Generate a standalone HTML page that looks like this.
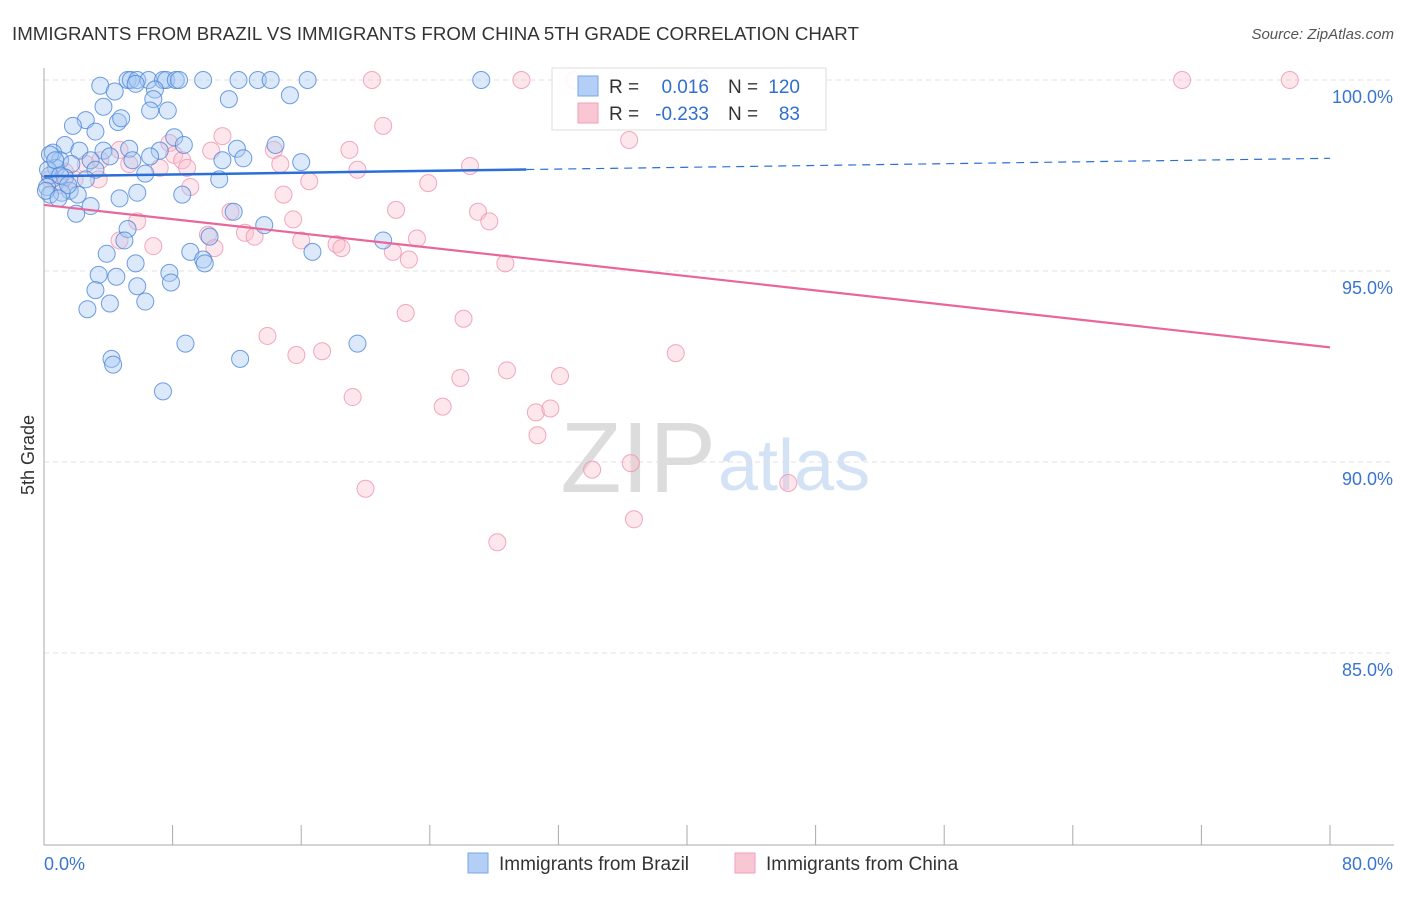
<!DOCTYPE html>
<html><head><meta charset="utf-8"><style>
body{margin:0;background:#fff;font-family:"Liberation Sans",sans-serif}
svg text{font-family:"Liberation Sans",sans-serif}
</style></head><body>
<svg id="chart" width="1406" height="892">
<text x="12" y="40" font-size="18.7" fill="#333">IMMIGRANTS FROM BRAZIL VS IMMIGRANTS FROM CHINA 5TH GRADE CORRELATION CHART</text>
<text x="1394" y="39" font-size="15" fill="#555" text-anchor="end" font-style="italic">Source: ZipAtlas.com</text>
<text x="716" y="492" font-size="100" fill="#dcdcdc" text-anchor="end" font-family="Liberation Serif">ZIP</text>
<text x="718" y="490" font-size="72" fill="#d3e2f5">atlas</text>
<g id="grid"></g><g id="axes"></g><g id="pts"></g><g id="lines"></g>
<text transform="translate(34,455) rotate(-90)" font-size="18" fill="#333" text-anchor="middle">5th Grade</text>
<g>
<rect x="552" y="68" width="274" height="62" fill="#fff" fill-opacity="0.9" stroke="#ddd"/>
<rect x="578" y="76" width="20" height="20" fill="#b3cff5" stroke="#7aa6e6"/>
<rect x="578" y="103" width="20" height="20" fill="#f9c6d4" stroke="#f0a0b8"/>
<text x="609" y="93" font-size="19" fill="#333">R = </text><text x="709" y="93" font-size="19" fill="#2f6fd0" text-anchor="end">0.016</text>
<text x="728" y="93" font-size="19" fill="#333">N = </text><text x="800" y="93" font-size="19" fill="#2f6fd0" text-anchor="end">120</text>
<text x="609" y="120" font-size="19" fill="#333">R = </text><text x="709" y="120" font-size="19" fill="#2f6fd0" text-anchor="end">-0.233</text>
<text x="728" y="120" font-size="19" fill="#333">N = </text><text x="800" y="120" font-size="19" fill="#2f6fd0" text-anchor="end">83</text>
</g>
<g>
<rect x="468" y="853" width="20" height="20" fill="#b3cff5" stroke="#7aa6e6"/>
<text x="499" y="870" font-size="19" fill="#333">Immigrants from Brazil</text>
<rect x="735" y="853" width="20" height="20" fill="#f9c6d4" stroke="#f0a0b8"/>
<text x="766" y="870" font-size="19" fill="#333">Immigrants from China</text>
</g>
</svg>
<script>
const yTicks=[100,95,90,85];
const yTickLabels=["100.0%","95.0%","90.0%","85.0%"];
const xTickVals=[0,8,16,24,32,40,48,56,64,72,80];
const xEndLabels=["0.0%","80.0%"];
const brazilX=[5.2,5.4,5.8,6.5,7.4,7.6,8.2,8.4,9.9,12.1,13.3,14.1,16.4,27.2,3.5,4.4,5.7,6.9,6.8,7.7,11.5,15.3,3.7,2.6,1.8,4.6,4.8,6.6,3.2,8.1,1.3,14.4,8.7,12,0.56,2.2,3.7,5.3,7.2,1.0,2.9,4.1,5.5,6.6,11.1,12.4,16.0,0.75,1.7,3.2,6.3,0.37,1.3,2.6,10.9,0.19,1.6,2.1,1.1,4.7,5.8,8.6,2.9,2.0,0.37,11.8,13.7,5.2,5.0,10.3,9.1,3.9,5.7,9.9,10.0,16.7,21.1,3.4,4.5,7.8,7.9,3.2,5.8,2.7,4.1,6.3,8.8,4.2,4.3,12.2,19.5,7.4,0.37,0.25,0.12,0.7,1.0,1.5,0.9];
const brazilY=[100,100,100,100,100,100,100,100,100,100,100,100,100,100,99.85,99.7,99.9,99.75,99.5,99.2,99.5,99.6,99.3,98.95,98.8,98.9,99.0,99.2,98.65,98.5,98.3,98.3,98.3,98.2,98.1,98.15,98.15,98.2,98.15,97.9,97.9,98.0,97.9,98.0,97.9,97.95,97.85,97.7,97.8,97.65,97.55,97.5,97.45,97.4,97.4,97.2,97.1,97.0,97.05,96.9,97.05,97.0,96.7,96.5,97.0,96.55,96.2,96.1,95.8,95.9,95.5,95.45,95.2,95.3,95.2,95.5,95.8,94.9,94.85,94.95,94.7,94.5,94.6,94.0,94.15,94.2,93.1,92.7,92.55,92.7,93.1,91.85,98.05,97.65,97.1,97.9,97.5,97.25,96.9];
const chinaX=[20.4,29.7,33,40.8,70.8,77.5,21.1,36.4,11.1,10.4,7.8,14.3,19.0,4.7,8.1,8.6,7.2,8.9,14.7,19.5,26.5,16.5,23.9,3.4,1.9,9.1,14.9,21.9,27.0,27.7,11.6,15.5,5.8,12.5,13.1,4.7,10.2,16.0,18.2,18.5,23.2,6.8,10.6,21.7,22.7,28.7,22.5,26.1,13.9,15.7,17.3,39.3,25.9,28.8,32.1,19.2,24.8,30.6,31.5,30.7,34.1,36.5,46.3,20.0,36.7,28.2,0.37,1.0,2.6,5.3,3.5,1.3];
const chinaY=[100,100,100,100,100,100,98.8,98.43,98.53,98.15,98.35,98.17,98.17,98.17,98.04,97.9,97.7,97.7,97.8,97.65,97.75,97.35,97.3,97.4,97.4,97.2,97.0,96.6,96.55,96.3,96.55,96.35,96.3,96.0,95.9,95.8,95.95,95.8,95.7,95.6,95.85,95.65,95.6,95.5,95.3,95.2,93.9,93.75,93.3,92.8,92.9,92.85,92.2,92.4,92.25,91.7,91.45,91.3,91.4,90.7,89.8,89.97,89.45,89.3,88.5,87.9,97.4,97.25,97.8,97.8,97.9,97.6];
const brazilTrend=[97.48,97.95];
const chinaTrend=[96.73,93.0];
const brazilSolidEnd=30.0;
const NS="http://www.w3.org/2000/svg";
const X=v=>44+v/80*1286, Y=v=>80+(100-v)/5*191;
function mk(t,a,p){const e=document.createElementNS(NS,t);for(const k in a)e.setAttribute(k,a[k]);p.appendChild(e);return e;}
const grid=document.getElementById('grid'),axes=document.getElementById('axes'),pts=document.getElementById('pts'),lines=document.getElementById('lines');
yTicks.forEach((v,i)=>{
 const l=mk('line',{x1:44,x2:1394,y1:Y(v),y2:Y(v),stroke:'#e0e0e0','stroke-dasharray':'5,4'},grid);
 
 
 const t=mk('text',{x:1393,y:Y(v)+23,'font-size':18,fill:'#3a75d0','text-anchor':'end'},axes);
 t.textContent=yTickLabels[i];
 
 
});
const ya=mk('line',{x1:44,x2:44,y1:68,y2:845,stroke:'#aaa'},axes);


const xa=mk('line',{x1:44,x2:1394,y1:845,y2:845,stroke:'#aaa'},axes);


xTickVals.forEach(v=>{
 const t=mk('line',{x1:X(v),x2:X(v),y1:825,y2:845,stroke:'#aaa'},axes);
 
 
});
[[0,'start',44],[80,'end',1393]].forEach((d,i)=>{
 const t=mk('text',{x:d[2],y:870,'font-size':18,fill:'#3a75d0','text-anchor':d[1]},axes);
 t.textContent=xEndLabels[i];
 
 
});
function dots(xs,ys,fill,stroke,name){xs.forEach((x,i)=>{
 const c=mk('circle',{cx:X(x),cy:Y(ys[i]),r:8.5,fill:fill,'fill-opacity':0.4,stroke:stroke,'stroke-opacity':0.8,'stroke-width':1},pts);
 
 
});}
dots(chinaX,chinaY,'#f9c0d0','#ee93ae','china-point');
dots(brazilX,brazilY,'#a8c8f2','#4a86da','brazil-point');
const bAt=x=>brazilTrend[0]+(brazilTrend[1]-brazilTrend[0])*x/80;
const b1=mk('line',{x1:X(0),y1:Y(bAt(0)),x2:X(brazilSolidEnd),y2:Y(bAt(brazilSolidEnd)),stroke:'#2a6fd6','stroke-width':2.5},lines);


const b2=mk('line',{x1:X(brazilSolidEnd),y1:Y(bAt(brazilSolidEnd)),x2:X(80),y2:Y(bAt(80)),stroke:'#2a6fd6','stroke-width':1.2,'stroke-dasharray':'8,6'},lines);


const c1=mk('line',{x1:X(0),y1:Y(chinaTrend[0]),x2:X(80),y2:Y(chinaTrend[1]),stroke:'#e8679a','stroke-width':2.2},lines);


</script>
</body></html>
